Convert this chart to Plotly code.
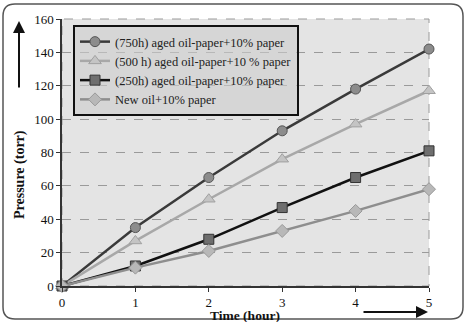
import plotly.graph_objects as go

time_h = [0, 1, 2, 3, 4, 5]
aged_750 = [0, 35, 65, 93, 118, 142]
aged_500 = [0, 27, 52, 76, 97, 117]
aged_250 = [0, 12, 28, 47, 65, 81]
new_oil = [0, 11, 21, 33, 45, 58]
names = ["(750h) aged oil-paper+10% paper",
         "(500 h) aged oil-paper+10 % paper",
         "(250h) aged oil-paper+10% paper",
         "New oil+10% paper"]

FONT = "Times New Roman, Liberation Serif, serif"
W, H = 470, 322
L, R, T, B = 62, 41, 19, 36
pw, ph = W - L - R, H - T - B

def px(x):
    return (x - L) / pw

def py(y):
    return (H - B - y) / ph

fig = go.Figure()
styles = [
    (aged_750, dict(color="#3a3a3a", width=2.5), dict(symbol="circle", size=10, color="#8c8c8c", line=dict(color="#555", width=1))),
    (aged_500, dict(color="#a8a8a8", width=2.5), dict(symbol="triangle-up", size=11, color="#c4c4c4", line=dict(color="#a0a0a0", width=1))),
    (aged_250, dict(color="#111111", width=2.5), dict(symbol="square", size=10, color="#6e6e6e", line=dict(color="#333", width=1))),
    (new_oil, dict(color="#8e8e8e", width=2.5), dict(symbol="diamond", size=10, color="#b8b8b8", line=dict(color="#999", width=1))),
]
for (vals, ln, mk), nm in zip(styles, names):
    fig.add_trace(go.Scatter(x=time_h, y=vals, mode="lines+markers", name=nm,
                             line=ln, marker=mk, cliponaxis=False))

# outer rounded border
x0, x1, y0, y1, r = 3, 463, 4, 319, 12
path = (f"M {px(x0+r)},{py(y0)} L {px(x1-r)},{py(y0)} Q {px(x1)},{py(y0)} {px(x1)},{py(y0+r)} "
        f"L {px(x1)},{py(y1-r)} Q {px(x1)},{py(y1)} {px(x1-r)},{py(y1)} "
        f"L {px(x0+r)},{py(y1)} Q {px(x0)},{py(y1)} {px(x0)},{py(y1-r)} "
        f"L {px(x0)},{py(y0+r)} Q {px(x0)},{py(y0)} {px(x0+r)},{py(y0)} Z")
shapes = [dict(type="path", xref="paper", yref="paper", path=path,
               line=dict(color="#555", width=1.5), layer="below"),
          dict(type="rect", xref="paper", yref="paper", x0=0, x1=1, y0=0, y1=1,
               line=dict(color="#9a9a9a", width=1, dash="dash"), layer="below")]

annotations = [
    dict(xref="paper", yref="paper", x=px(19), y=py(21), ax=0, ay=68,
         showarrow=True, arrowhead=2, arrowsize=1.2, arrowwidth=2, arrowcolor="#111", text=""),
    dict(xref="paper", yref="paper", x=px(428), y=py(312), ax=-66, ay=0,
         showarrow=True, arrowhead=2, arrowsize=1.2, arrowwidth=2, arrowcolor="#111", text=""),
    dict(xref="paper", yref="paper", x=px(20), y=py(175), xanchor="center", yanchor="middle",
         text="<b>Pressure (torr)</b>",
         textangle=-90, showarrow=False, font=dict(family=FONT, size=14, color="#111")),
    dict(xref="paper", yref="paper", x=px(245), y=py(315), xanchor="center", yanchor="middle",
         text="<b>Time (hour)</b>",
         showarrow=False, font=dict(family=FONT, size=13.5, color="#111")),
]

fig.update_layout(
    width=W, height=H,
    margin=dict(l=L, r=R, t=T, b=B, autoexpand=False),
    paper_bgcolor="white",
    plot_bgcolor="#e4e4e4",
    font=dict(family=FONT, size=13, color="#111"),
    showlegend=True,
    legend=dict(x=px(73), y=py(25), xanchor="left", yanchor="top",
                bgcolor="rgba(205,205,205,0.6)", bordercolor="#111", borderwidth=2,
                font=dict(family=FONT, size=12.5, color="#222"), tracegroupgap=0,
                itemwidth=30),
    shapes=shapes,
    annotations=annotations,
    xaxis=dict(range=[0, 5], tickvals=[0, 1, 2, 3, 4, 5], showgrid=False,
               showline=True, linecolor="#333", linewidth=1.5, ticks="outside",
               ticklen=4, tickcolor="#333", zeroline=False, automargin=False,
               tickfont=dict(family=FONT, size=13)),
    yaxis=dict(range=[0, 160], tickvals=[0, 20, 40, 60, 80, 100, 120, 140, 160],
               showgrid=True, gridcolor="#9a9a9a", griddash="dash", gridwidth=1,
               showline=True, linecolor="#333", linewidth=1.5, ticks="outside",
               ticklen=4, tickcolor="#333", zeroline=False, automargin=False,
               tickfont=dict(family=FONT, size=13)),
)

fig.write_html("out.html")
